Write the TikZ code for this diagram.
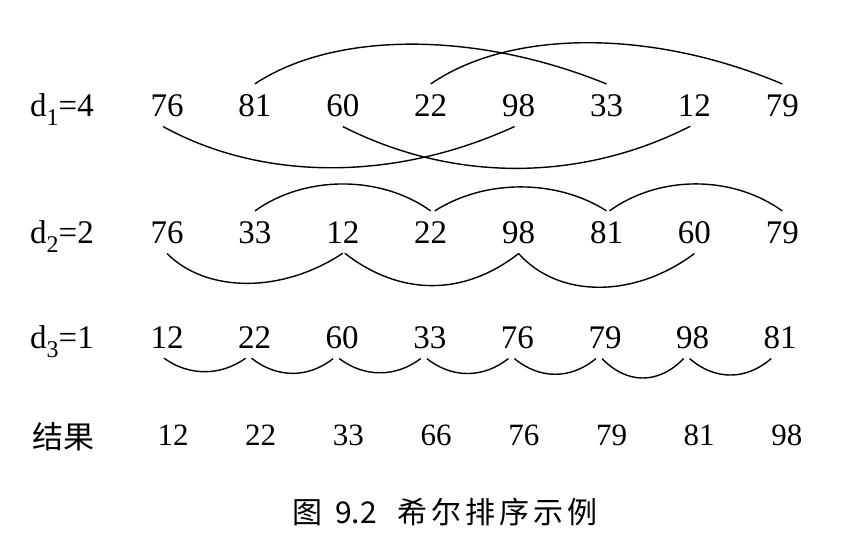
\documentclass[tikz,border=0pt]{standalone}
\usepackage{fontspec}
\setmainfont{Liberation Serif}
\newfontfamily\cjkfont{Noto Sans CJK SC}
\newfontfamily\cjkcap[LetterSpace=13]{Noto Sans CJK SC}
\begin{document}
\begin{tikzpicture}[x=1pt,y=-1pt,
  num/.style={anchor=base,inner xsep=0pt,inner ysep=10pt,font=\fontsize{33}{40}\selectfont},
  resnum/.style={anchor=base,inner sep=0pt,font=\fontsize{31}{38}\selectfont},
  lab/.style={anchor=base west,inner sep=0pt,font=\fontsize{33}{40}\selectfont},
  arcline/.style={line width=1.4pt,black}]
\useasboundingbox (0,0) rectangle (846,558);
\fill[white] (0,0) rectangle (846,558);
% labels
\node[lab] (l1) at (30,116) {d\raisebox{-9pt}{\fontsize{24}{24}\selectfont 1}=4};
\node[lab] (l2) at (30,243) {d\raisebox{-9pt}{\fontsize{24}{24}\selectfont 2}=2};
\node[lab] (l3) at (30,348) {d\raisebox{-9pt}{\fontsize{24}{24}\selectfont 3}=1};
\node[lab,font=\cjkfont\fontsize{31}{38}\selectfont] (l4) at (32,448) {结果};
% rows
\foreach \v [count=\i] in {76,81,60,22,98,33,12,79}
  \node[num] (a\i) at ({167+87.9*(\i-1)},116) {\v};
\foreach \v [count=\i] in {76,33,12,22,98,81,60,79}
  \node[num] (b\i) at ({167+87.9*(\i-1)},243) {\v};
\foreach \v [count=\i] in {12,22,60,33,76,79,98,81}
  \node[num] (c\i) at ({167+87.6*(\i-1)},348) {\v};
\foreach \v [count=\i] in {12,22,33,66,76,79,81,98}
  \node[resnum] (r\i) at ({173+87.7*(\i-1)},445) {\v};
% caption
\node[anchor=base west,inner sep=0pt,font=\cjkfont\fontsize{30}{36}\selectfont] (cap) at (292,523)
  {图\hspace{13pt}9.2\hspace{21pt}{\cjkcap 希尔排序示例}};
% row 1 arcs
\draw[arcline] (a2.north) .. controls +(80,-53) and +(-130,-53) .. (a6.north);
\draw[arcline] (a4.north) .. controls +(80,-55) and +(-130,-55) .. (a8.north);
\draw[arcline] ([xshift=-4pt]a1.south) .. controls +(100,55) and +(-120,55) .. ([xshift=-4pt]a5.south);
\draw[arcline] (a3.south) .. controls +(110,56) and +(-110,56) .. ([xshift=-4pt]a7.south);
% row 2 arcs
\draw[arcline] (b2.north) .. controls +(50,-36) and +(-50,-36) .. (b4.north);
\draw[arcline] ([xshift=4pt]b4.north) .. controls +(50,-32) and +(-50,-32) .. (b6.north);
\draw[arcline] ([xshift=3pt]b6.north) .. controls +(50,-36) and +(-50,-36) .. (b8.north);
\draw[arcline] (b1.south) .. controls +(40,40) and +(-60,40) .. (b3.south);
\draw[arcline] ([xshift=2pt]b3.south) .. controls +(55,43) and +(-55,43) .. (b5.south);
\draw[arcline] (b5.south) .. controls +(40,45) and +(-60,45) .. (b7.south);
% row 3 arcs
\foreach \i/\j/\h in {1/2/18,2/3/20,3/4/19,4/5/20,5/6/21,6/7/26,7/8/22}
  \draw[arcline] ([xshift=-3pt]c\i.south) .. controls +(25,\h) and +(-25,\h) .. ([xshift=-9pt]c\j.south);
\end{tikzpicture}
\end{document}
